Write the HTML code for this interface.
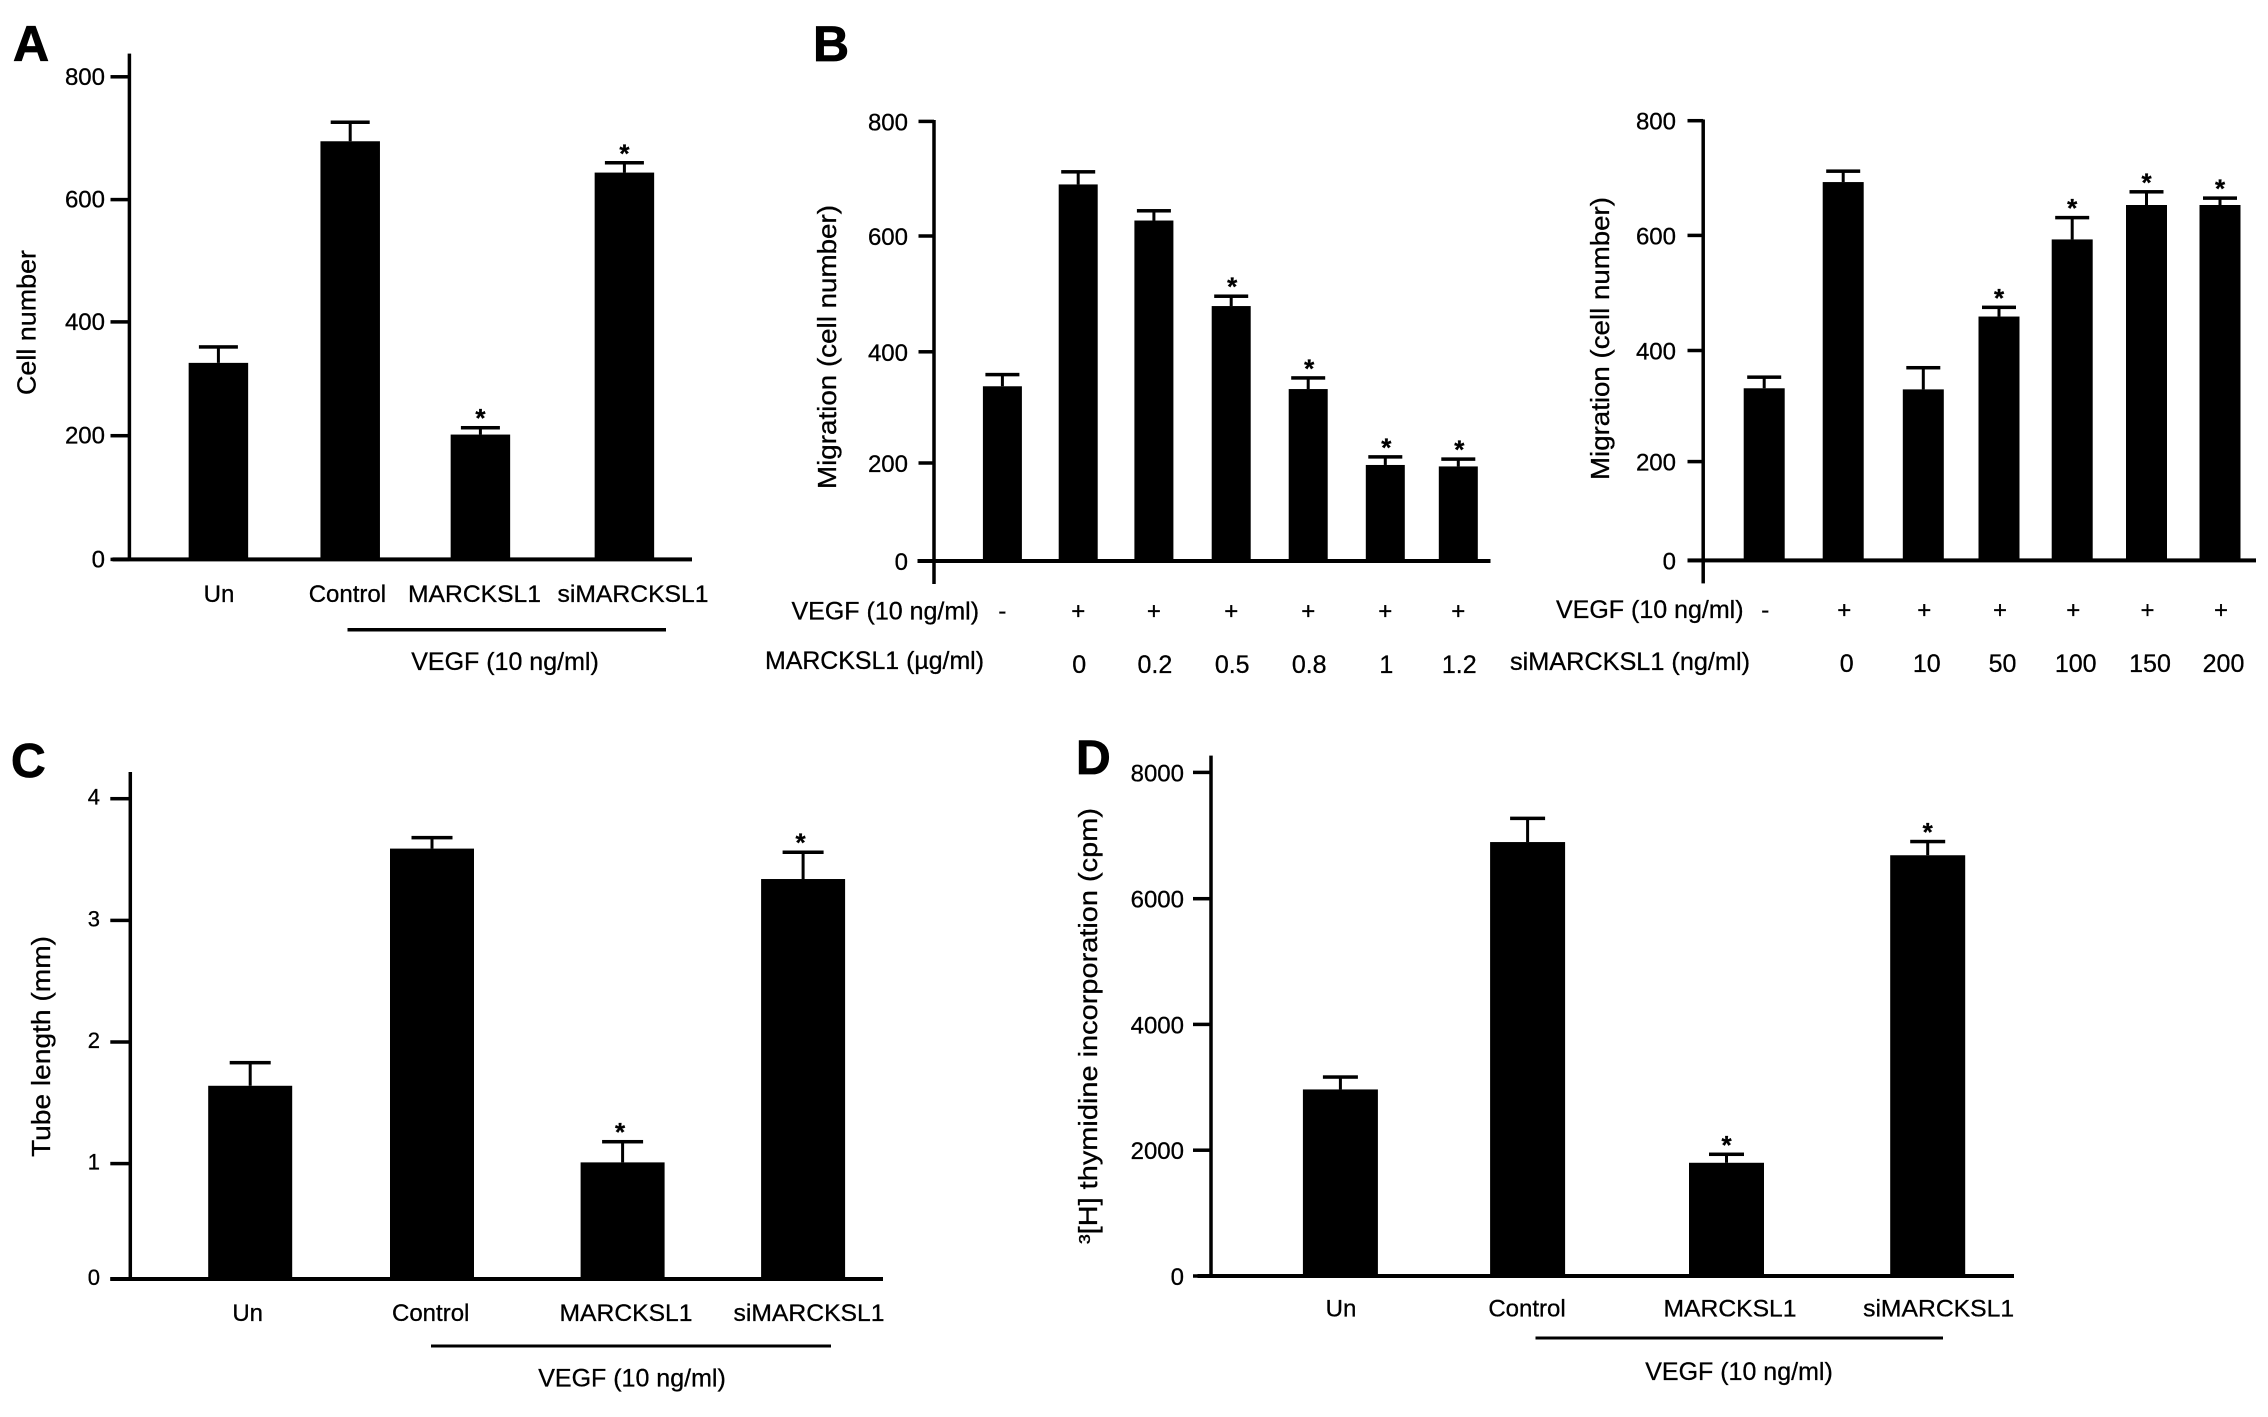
<!DOCTYPE html>
<html lang="en">
<head>
<meta charset="utf-8">
<title>MARCKSL1 and VEGF bar chart panels</title>
<style>
  html, body { margin: 0; padding: 0; background: #fff; }
  svg { display: block; }
  text { font-family: "Liberation Sans", Arial, sans-serif; fill: #000; stroke: #000; stroke-width: 0.3px; }
  .letter { font-weight: 700; font-size: 50px; stroke-width: 0.8px; }
</style>
</head>
<body>
<svg id="figure" xmlns="http://www.w3.org/2000/svg" width="2268" height="1417" viewBox="0 0 2268 1417">
  <rect width="2268" height="1417" fill="#fff"/>

  <text class="letter" x="13" y="61">A</text>
  <text class="letter" x="813" y="61">B</text>
  <text class="letter" x="11" y="777" style="font-size:48px">C</text>
  <text class="letter" x="1076" y="774" style="font-size:48px">D</text>

  <text transform="translate(35.5 395) rotate(-90)" font-size="26" textLength="145" lengthAdjust="spacingAndGlyphs">Cell number</text>
  <text transform="translate(836 489) rotate(-90)" font-size="26" textLength="284" lengthAdjust="spacingAndGlyphs">Migration (cell number)</text>
  <text transform="translate(1609 480) rotate(-90)" font-size="26" textLength="283" lengthAdjust="spacingAndGlyphs">Migration (cell number)</text>
  <text transform="translate(50 1157) rotate(-90)" font-size="26" textLength="221" lengthAdjust="spacingAndGlyphs">Tube length (mm)</text>
  <text transform="translate(1097 1244) rotate(-90)" font-size="26" textLength="436" lengthAdjust="spacingAndGlyphs">³[H] thymidine incorporation (cpm)</text>

  <rect x="347.5" y="628" width="318.5" height="3.5" fill="#000"/>
  <text x="505" y="670" text-anchor="middle" font-size="25">VEGF (10 ng/ml)</text>
  <rect x="431" y="1344.5" width="400" height="3" fill="#000"/>
  <text x="632" y="1386.5" text-anchor="middle" font-size="25">VEGF (10 ng/ml)</text>
  <rect x="1535.5" y="1336.5" width="407.5" height="3" fill="#000"/>
  <text x="1739" y="1380" text-anchor="middle" font-size="25">VEGF (10 ng/ml)</text>

  <text x="791.5" y="619.5" font-size="25">VEGF (10 ng/ml)</text>
  <text x="765" y="669" font-size="25" textLength="219" lengthAdjust="spacingAndGlyphs">MARCKSL1 (µg/ml)</text>
  <text x="1556" y="618" font-size="25">VEGF (10 ng/ml)</text>
  <text x="1510" y="670" font-size="25" textLength="240" lengthAdjust="spacingAndGlyphs">siMARCKSL1 (ng/ml)</text>
</svg>

<script>
// ---------- Panel A ----------
const aCategories = ['Un', 'Control', 'MARCKSL1', 'siMARCKSL1'];
const aValues = [328, 695, 202, 644];
const aErrorTops = [356, 726, 214, 660];
const aSignificant = [false, false, true, true];
const aTicks = [0, 200, 400, 600, 800];

// ---------- Panel B, left ----------
const bLeftValues = [338, 690, 627, 479, 333, 196, 193];
const bLeftErrorTops = [359, 712, 644, 496, 353, 211, 207];
const bLeftSignificant = [false, false, false, true, true, true, true];
const bLeftVegf = ['-', '+', '+', '+', '+', '+', '+'];
const bLeftDoses = ['', '0', '0.2', '0.5', '0.8', '1', '1.2'];
const bLeftTicks = [0, 200, 400, 600, 800];

// ---------- Panel B, right ----------
const bRightValues = [332, 693, 330, 459, 593, 653, 653];
const bRightErrorTops = [352, 712, 369, 475, 631, 676, 665];
const bRightSignificant = [false, false, false, true, true, true, true];
const bRightVegf = ['-', '+', '+', '+', '+', '+', '+'];
const bRightDoses = ['', '0', '10', '50', '100', '150', '200'];
const bRightTicks = [0, 200, 400, 600, 800];

// ---------- Panel C ----------
const cCategories = ['Un', 'Control', 'MARCKSL1', 'siMARCKSL1'];
const cValues = [1.64, 3.59, 1.01, 3.34];
const cErrorTops = [1.83, 3.68, 1.18, 3.56];
const cSignificant = [false, false, true, true];
const cTicks = [0, 1, 2, 3, 4];

// ---------- Panel D ----------
const dCategories = ['Un', 'Control', 'MARCKSL1', 'siMARCKSL1'];
const dValues = [2966, 6897, 1800, 6688];
const dErrorTops = [3163, 7272, 1935, 6905];
const dSignificant = [false, false, true, true];
const dTicks = [0, 2000, 4000, 6000, 8000];

const svg = document.getElementById('figure');
const NS = 'http://www.w3.org/2000/svg';

function mk(tag, attrs) {
  const node = document.createElementNS(NS, tag);
  for (const key in attrs) node.setAttribute(key, attrs[key]);
  svg.appendChild(node);
  return node;
}

// The printed axes are not evenly spaced, so each axis is calibrated at its ticks.
function yAxisScale(domain, range) {
  return function (v) {
    let i = 0;
    while (i < domain.length - 2 && v > domain[i + 1]) i++;
    return range[i] + (v - domain[i]) * (range[i + 1] - range[i]) / (domain[i + 1] - domain[i]);
  };
}

function xAxisScale(calibration) {
  return function (i) { return calibration[i]; };
}

function drawPanel(p) {
  const y = yAxisScale(p.ticks, p.tickRange);
  const x = xAxisScale(p.slots);
  const zero = y(0);

  p.values.forEach(function (value, i) {
    const key = p.id + '-' + i;
    const cx = x(i);
    const top = y(value);
    const capY = y(p.errorTops[i]);

    const bar = mk('rect', { x: cx - p.barWidth / 2, y: top, width: p.barWidth, height: zero - top, fill: '#000' });
    
    

    const stem = mk('rect', { x: cx - 1.5, y: capY, width: 3, height: top - capY, fill: '#000' });
    
    

    const cap = mk('rect', { x: cx - p.capWidth / 2, y: capY - 1.75, width: p.capWidth, height: 3.5, fill: '#000' });
    
    

    if (p.significant[i]) {
      const star = mk('text', { x: cx + p.starShift, y: capY - 0.5, 'text-anchor': 'middle', 'font-size': 26, 'font-weight': 700 });
      star.textContent = '*';
      
      
    }
  });

  const yLine = mk('rect', { x: p.axisX - 1.75, y: p.axisTop, width: 3.5, height: p.axisBottom - p.axisTop, fill: '#000' });
  
  

  const xLine = mk('rect', { x: p.baseLeft, y: zero - 2, width: p.baseRight - p.baseLeft, height: 4, fill: '#000' });
  
  

  p.ticks.forEach(function (t) {
    const tick = mk('rect', { x: p.tickLeft, y: y(t) - 1.75, width: p.axisX - p.tickLeft, height: 3.5, fill: '#000' });
    
    

    const label = mk('text', { x: p.tickLabelRight, y: y(t) + p.tickLabelDrop, 'text-anchor': 'end', 'font-size': p.tickFont });
    label.textContent = String(t);
    
    
  });

  if (p.categories) {
    p.categories.forEach(function (name, i) {
      const label = mk('text', { x: p.labelSlots[i], y: p.labelY, 'text-anchor': 'middle', 'font-size': 24 });
      if (name === 'siMARCKSL1') {
        label.setAttribute('textLength', 151);
        label.setAttribute('lengthAdjust', 'spacingAndGlyphs');
      }
      if (name === 'MARCKSL1') {
        label.setAttribute('textLength', 133);
        label.setAttribute('lengthAdjust', 'spacingAndGlyphs');
      }
      label.textContent = name;
      
      
    });
  }

  if (p.vegfRow) {
    p.vegfRow.forEach(function (sign, i) {
      const mark = mk('text', { x: x(i) + p.vegfShift, y: p.vegfY, 'text-anchor': 'middle', 'font-size': 24 });
      mark.textContent = sign;
      
      
    });
    p.doseRow.forEach(function (dose, i) {
      if (!dose) return;
      const mark = mk('text', { x: x(i) + p.doseShift, y: p.doseY, 'text-anchor': 'middle', 'font-size': 25 });
      mark.textContent = dose;
      
      
    });
  }
}

drawPanel({
  id: 'a', categories: aCategories, values: aValues, errorTops: aErrorTops, significant: aSignificant, ticks: aTicks,
  tickRange: [559.4, 435.7, 321.9, 199.6, 76.8],
  slots: [218.4, 350.2, 480.4, 624.4], barWidth: 59.5, capWidth: 39, starShift: 0,
  axisX: 129.4, axisTop: 53.6, axisBottom: 559.4, baseLeft: 112.5, baseRight: 692,
  tickLeft: 110.5, tickLabelRight: 105, tickLabelDrop: 8, tickFont: 24,
  labelSlots: [219, 347.4, 474.5, 633], labelY: 602
});

drawPanel({
  id: 'b-left', values: bLeftValues, errorTops: bLeftErrorTops, significant: bLeftSignificant, ticks: bLeftTicks,
  tickRange: [561, 463, 351.8, 236, 121.4],
  slots: [1002.4, 1078.2, 1153.9, 1231.2, 1308.2, 1385.3, 1458.3], barWidth: 39, capWidth: 34, starShift: 1,
  axisX: 934, axisTop: 120, axisBottom: 584, baseLeft: 917.5, baseRight: 1490.5,
  tickLeft: 918.5, tickLabelRight: 908, tickLabelDrop: 9, tickFont: 24,
  vegfRow: bLeftVegf, vegfShift: 0, vegfY: 619, doseRow: bLeftDoses, doseShift: 1, doseY: 673
});

drawPanel({
  id: 'b-right', values: bRightValues, errorTops: bRightErrorTops, significant: bRightSignificant, ticks: bRightTicks,
  tickRange: [560.4, 461.6, 350.5, 235.4, 120.7],
  slots: [1764.2, 1843.2, 1923.3, 1999, 2072.2, 2146.5, 2220], barWidth: 41, capWidth: 34, starShift: 0,
  axisX: 1703.2, axisTop: 119.5, axisBottom: 583.4, baseLeft: 1687.5, baseRight: 2256,
  tickLeft: 1687.5, tickLabelRight: 1676, tickLabelDrop: 9, tickFont: 24,
  vegfRow: bRightVegf, vegfShift: 1, vegfY: 618, doseRow: bRightDoses, doseShift: 3.5, doseY: 672
});

drawPanel({
  id: 'c', categories: cCategories, values: cValues, errorTops: cErrorTops, significant: cSignificant, ticks: cTicks,
  tickRange: [1279, 1163.6, 1042, 920.4, 798.7],
  slots: [250.2, 432, 622.6, 803.1], barWidth: 84, capWidth: 41, starShift: -2.5,
  axisX: 130.3, axisTop: 772, axisBottom: 1279, baseLeft: 110.3, baseRight: 883,
  tickLeft: 110.3, tickLabelRight: 100, tickLabelDrop: 6, tickFont: 22,
  labelSlots: [247.7, 430.7, 626, 809], labelY: 1321
});

drawPanel({
  id: 'd', categories: dCategories, values: dValues, errorTops: dErrorTops, significant: dSignificant, ticks: dTicks,
  tickRange: [1276, 1150.2, 1024.4, 898.7, 772.4],
  slots: [1340.4, 1527.6, 1726.5, 1927.7], barWidth: 75, capWidth: 35, starShift: 0,
  axisX: 1211, axisTop: 755.6, axisBottom: 1276, baseLeft: 1197.5, baseRight: 2014,
  tickLeft: 1193, tickLabelRight: 1184, tickLabelDrop: 9, tickFont: 24,
  labelSlots: [1341, 1527, 1730, 1938.6], labelY: 1316.5
});
</script>
</body>
</html>
